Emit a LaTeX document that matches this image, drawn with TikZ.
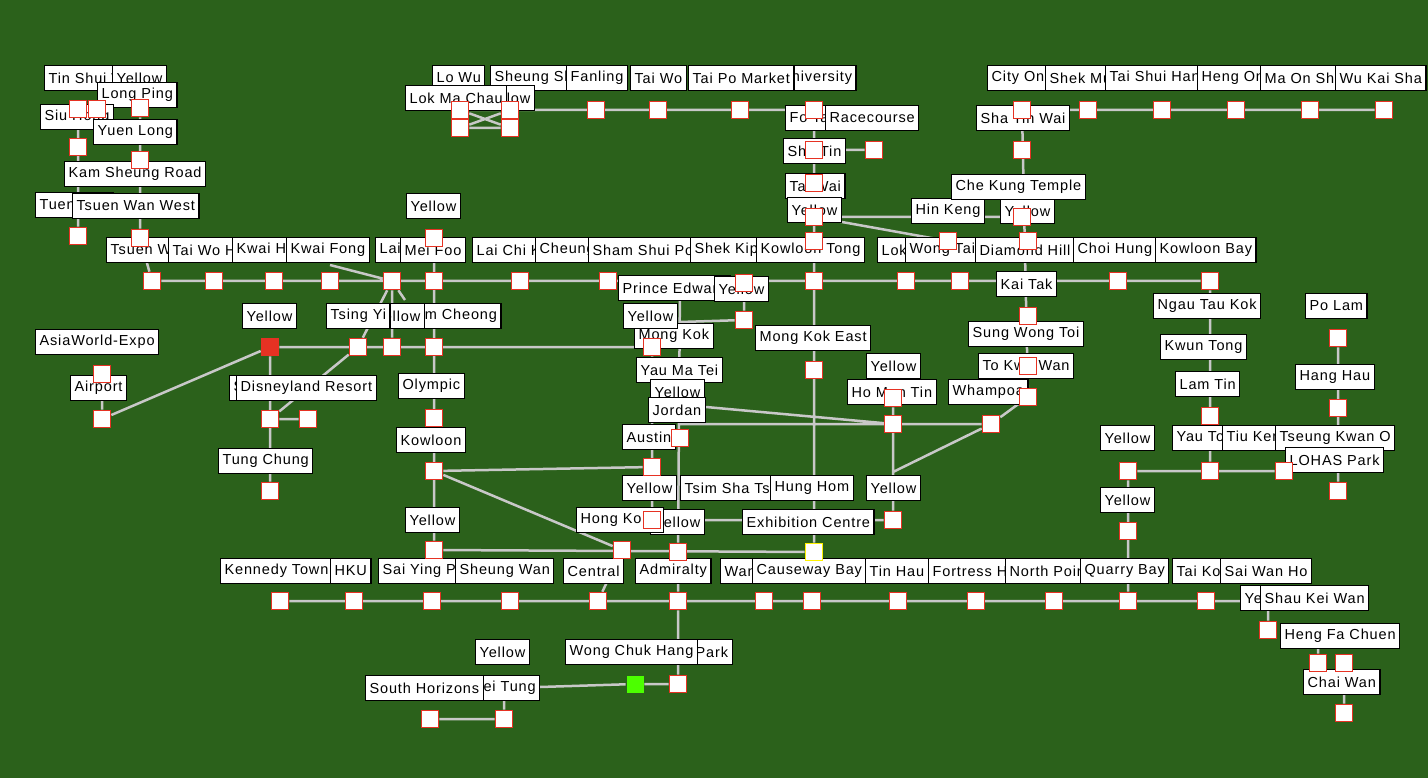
\documentclass[tikz,border=0pt]{standalone}
\usepackage{fontspec}
\setmainfont[LetterSpace=6]{Liberation Sans}
\definecolor{bgg}{RGB}{43,97,27}
\definecolor{ln}{RGB}{200,200,200}
\definecolor{rd}{RGB}{230,50,35}
\pgfdeclarelayer{bgl}
\pgfsetlayers{bgl,main}
\newcount\lbc
\newcommand{\LB}[3]{\global\advance\lbc by 1 \node[lab] (L\the\lbc) at (#1,#2) {#3};}
\newcommand{\ST}[3]{\node[sq] (#1) at (#2,#3) {};}
\begin{document}
\begin{tikzpicture}[x=1pt,y=-1pt,
 lab/.style={draw=black,line width=1.2pt,fill=white,inner xsep=4pt,inner ysep=0pt,minimum height=25pt,anchor=west,font=\fontsize{14.5}{16}\selectfont},
 sq/.style={draw=rd,line width=1.6pt,fill=white,minimum size=17pt,inner sep=0pt},
 ed/.style={draw=ln,line width=2.5pt}]
\useasboundingbox (0,0) rectangle (1428,778);
% labels
\LB{44}{78}{Tin Shui Wai}\LB{112}{78}{Yellow}\LB{97}{95}{Long Ping}
\LB{40}{117}{Siu Hong}\LB{93}{132}{Yuen Long}\LB{64}{174}{Kam Sheung Road}
\LB{35}{205}{Tuen Mun}\LB{72}{206}{Tsuen Wan West}\LB{406}{206}{Yellow}
\LB{106}{250}{Tsuen Wan}\LB{168}{250}{Tai Wo Hau}\LB{232}{250}{Kwai Hing}
\LB{375}{250}{Lai King}\LB{286}{250}{Kwai Fong}\LB{400}{250}{Mei Foo}
\LB{472}{250}{Lai Chi Kok}\LB{535}{250}{Cheung Sha Wan}\LB{588}{250}{Sham Shui Po}
\LB{690}{250}{Shek Kip Mei}\LB{756}{250}{Kowloon Tong}\LB{877}{250}{Lok Fu}
\LB{905}{250}{Wong Tai Sin}\LB{975}{250}{Diamond Hill}\LB{1073}{250}{Choi Hung}
\LB{1155}{250}{Kowloon Bay}
\LB{490}{78}{Sheung Shui}\LB{432}{78}{Lo Wu}\LB{566}{78}{Fanling}\LB{630}{78}{Tai Wo}
\LB{776}{78}{University}\LB{688}{78}{Tai Po Market}
\LB{480}{98}{Yellow}\LB{405}{98}{Lok Ma Chau}
\LB{785}{118}{Fo Tan}\LB{825}{118}{Racecourse}\LB{783}{151}{Sha Tin}
\LB{785}{186}{Tai Wai}\LB{787}{210}{Yellow}
\LB{987}{78}{City One}\LB{1045}{78}{Shek Mun}\LB{1105}{78}{Tai Shui Hang}
\LB{1197}{78}{Heng On}\LB{1260}{78}{Ma On Shan}\LB{1335}{78}{Wu Kai Sha}
\LB{976}{118}{Sha Tin Wai}\LB{911}{211}{Hin Keng}\LB{1000}{211}{Yellow}
\LB{951}{187}{Che Kung Temple}
\LB{996}{284}{Kai Tak}\LB{968}{334}{Sung Wong Toi}\LB{978}{366}{To Kwa Wan}
\LB{866}{366}{Yellow}\LB{847}{392}{Ho Man Tin}\LB{948}{392}{Whampoa}
\LB{618}{288}{Prince Edward}\LB{714}{289}{Yellow}
\LB{634}{336}{Mong Kok}\LB{623}{316}{Yellow}\LB{755}{338}{Mong Kok East}
\LB{636}{370}{Yau Ma Tei}\LB{650}{392}{Yellow}\LB{648}{410}{Jordan}
\LB{622}{437}{Austin}\LB{680}{488}{Tsim Sha Tsui}\LB{622}{488}{Yellow}
\LB{770}{488}{Hung Hom}\LB{866}{488}{Yellow}
\LB{650}{522}{Yellow}\LB{576}{520}{Hong Kong}\LB{742}{522}{Exhibition Centre}
\LB{242}{316}{Yellow}\LB{400}{316}{Nam Cheong}\LB{370}{316}{Yellow}\LB{326}{316}{Tsing Yi}
\LB{35}{342}{AsiaWorld-Expo}\LB{70}{388}{Airport}
\LB{229}{388}{Sunny Bay}\LB{236}{388}{Disneyland Resort}
\LB{398}{386}{Olympic}\LB{396}{440}{Kowloon}\LB{218}{461}{Tung Chung}\LB{405}{520}{Yellow}
\LB{220}{571}{Kennedy Town}\LB{330}{571}{HKU}\LB{378}{571}{Sai Ying Pun}
\LB{563}{571}{Central}\LB{455}{571}{Sheung Wan}\LB{635}{571}{Admiralty}
\LB{720}{571}{Wan Chai}\LB{752}{571}{Causeway Bay}\LB{865}{571}{Tin Hau}
\LB{928}{571}{Fortress Hill}\LB{1005}{571}{North Point}\LB{1080}{571}{Quarry Bay}
\LB{1172}{571}{Tai Koo}\LB{1220}{571}{Sai Wan Ho}
\LB{1240}{598}{Yellow}\LB{1260}{598}{Shau Kei Wan}\LB{1280}{636}{Heng Fa Chuen}
\LB{1303}{682}{Chai Wan}
\LB{1153}{306}{Ngau Tau Kok}\LB{1160}{347}{Kwun Tong}\LB{1175}{384}{Lam Tin}
\LB{1305}{306}{Po Lam}\LB{1295}{377}{Hang Hau}
\LB{1100}{438}{Yellow}\LB{1172}{438}{Yau Tong}\LB{1222}{438}{Tiu Keng Leng}
\LB{1275}{438}{Tseung Kwan O}\LB{1285}{460}{LOHAS Park}\LB{1100}{500}{Yellow}
\LB{640}{652}{Ocean Park}\LB{565}{652}{Wong Chuk Hang}\LB{475}{652}{Yellow}
\LB{470}{688}{Lei Tung}\LB{365}{688}{South Horizons}
% stations
\ST{w1}{78}{109}\ST{w2}{97}{109}\ST{w3}{140}{108}\ST{w4}{78}{147}\ST{w5}{140}{160}
\ST{w6}{78}{236}\ST{w7}{140}{238}
\ST{t1}{152}{281}\ST{t2}{214}{281}\ST{t3}{274}{281}\ST{t4}{330}{281}\ST{t5}{392}{281}
\ST{t6}{434}{281}\ST{t7}{520}{281}\ST{t8}{608}{281}\ST{t9}{744}{283}\ST{t10}{814}{281}
\ST{t11}{906}{281}\ST{t12}{960}{281}\ST{t13}{1118}{281}\ST{t14}{1210}{281}
\ST{mf}{434}{238}
\ST{e1}{460}{110}\ST{e2}{510}{110}\ST{e3}{460}{128}\ST{e4}{510}{128}\ST{e5}{596}{110}
\ST{e6}{658}{110}\ST{e7}{740}{110}\ST{e8}{814}{110}\ST{e9}{814}{150}\ST{e10}{874}{150}
\ST{e11}{814}{183}\ST{e12}{814}{217}\ST{e13}{814}{241}\ST{e14}{814}{370}
\node[sq,draw=yellow] (ex) at (814,552) {};
\ST{m1}{1022}{110}\ST{m2}{1088}{110}\ST{m3}{1162}{110}\ST{m4}{1236}{110}\ST{m5}{1310}{110}
\ST{m6}{1384}{110}\ST{m7}{1022}{150}\ST{m8}{1022}{217}\ST{m9}{1028}{241}\ST{m10}{948}{241}
\ST{m11}{1028}{316}\ST{m12}{1028}{366}\ST{m13}{1028}{397}\ST{m14}{991}{424}
\ST{m15}{893}{398}\ST{m16}{893}{424}\ST{m17}{893}{520}
\ST{k1}{744}{320}\ST{k2}{652}{347}\ST{k3}{680}{438}\ST{k4}{652}{467}\ST{k5}{652}{520}
\ST{k6}{678}{552}\ST{k7}{622}{550}
\node[sq,fill=rd] (a0) at (270,347) {};
\ST{a1}{358}{347}\ST{a2}{392}{347}\ST{a3}{434}{347}\ST{a4}{102}{374}\ST{a5}{102}{419}
\ST{a6}{270}{419}\ST{a7}{308}{419}\ST{a8}{270}{491}\ST{a9}{434}{418}\ST{a10}{434}{471}
\ST{a11}{434}{550}
\ST{i1}{280}{601}\ST{i2}{354}{601}\ST{i3}{432}{601}\ST{i4}{510}{601}\ST{i5}{598}{601}
\ST{i6}{678}{601}\ST{i7}{764}{601}\ST{i8}{812}{601}\ST{i9}{898}{601}\ST{i10}{976}{601}
\ST{i11}{1054}{601}\ST{i12}{1128}{601}\ST{i13}{1206}{601}\ST{i14}{1268}{630}
\ST{i15}{1318}{663}\ST{i16}{1344}{663}\ST{i17}{1344}{713}
\ST{q1}{1128}{531}\ST{q2}{1128}{471}\ST{q3}{1210}{471}\ST{q4}{1284}{471}\ST{q5}{1338}{491}
\ST{q7}{1210}{416}\ST{q8}{1338}{338}\ST{q9}{1338}{408}
\ST{s1}{678}{684}\node[sq,draw=none,fill=green!60!lime] (s2) at (635,684) {};
\ST{s3}{430}{719}\ST{s4}{504}{719}
\coordinate (pe) at (680,283); \coordinate (jd) at (680,424); \coordinate (jd2) at (706,407);
\coordinate (hh2) at (893,472); \coordinate (mk) at (680,322); \coordinate (lt) at (540,687);
\coordinate (ny) at (405,300); \coordinate (kf) at (330,265); \coordinate (sk) at (1268,601);
\coordinate (hf) at (1318,648); \coordinate (lt2) at (504,700);
\begin{pgfonlayer}{bgl}
\fill[bgg] (0,0) rectangle (1428,778);
\path[ed] (w1)--(w6) (w3)--(w7)--(t1) (t1)--(t14) (mf)--(a11)
 (e1)--(e2)--(e8) (e3)--(e4) (e1)--(e4) (e3)--(e2) (e8)--(ex) (e9)--(e10)
 (e12)--(m8) (e12)--(m10) (m1)--(m6) (m1)--(m13) (m13)--(m14) (jd)--(m14) (jd2)--(m16)
 (m14)--(hh2) (m15)--(m17) (pe)--(k6) (t9)--(k1)--(mk) (k2)--(k5) (a0)--(k2)
 (t5)--(a1) (t5)--(a2) (t5)--(ny) (kf)--(t5) (a4)--(a5)--(a0)--(a8) (a6)--(a7) (a1)--(a6)
 (a10)--(k4) (a10)--(k7) (a11)--(ex) (k5)--(m17) (i1)--(sk) (sk)--(i14) (hf)--(i15) (i16)--(i17)
 (i5)--(k7) (k6)--(i6)--(s1) (s1)--(s2)--(lt) (s3)--(s4)--(lt2) (q2)--(i12) (q2)--(q4)
 (t14)--(q3) (q8)--(q5);
\end{pgfonlayer}
\end{tikzpicture}
\end{document}
